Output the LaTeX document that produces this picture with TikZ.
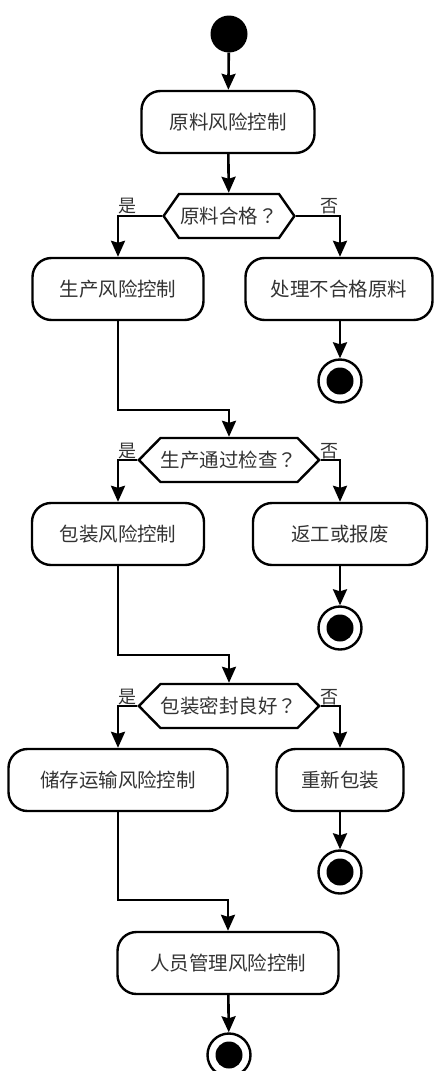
\documentclass[tikz,border=0pt]{standalone}
\usepackage{fontspec}
\newfontfamily\cjk{Noto Sans CJK SC}
\newfontfamily\cjkq{Noto Sans CJK TC}
\usepackage{tikz}
\usetikzlibrary{arrows.meta,shapes.symbols}

\newcommand{\qmark}{{\cjkq ？}}

\tikzset{
  act/.style={draw=black, line width=2.4pt, rounded corners=19pt, minimum height=62pt,
    inner sep=0pt, text=black!80, font=\cjk\fontsize{19.5}{22}\selectfont},
  ask/.style={shape=signal, signal to=west and east, draw=black, line width=2.4pt,
    minimum height=44pt, inner xsep=0pt, align=center, text=black!80,
    font=\cjk\fontsize{19.5}{22}\selectfont},
  tag/.style={inner sep=0pt, text=black!80, font=\cjk\fontsize{18}{20}\selectfont},
  begin/.style={shape=circle, fill=black, minimum size=37pt, inner sep=0pt},
  final/.style={shape=circle, draw=black, line width=2.4pt, minimum size=43pt, inner sep=0pt,
    path picture={\fill[black] (path picture bounding box.center) circle (13.5pt);}},
  flow/.style={line width=2.6pt, -{Stealth[length=16pt,width=14pt,inset=2pt]}}
}

\begin{document}
\begin{tikzpicture}[x=1pt,y=-1pt]
		\useasboundingbox (0,0) rectangle (435,1071);

		\node[begin] (s) at (229, 34) {};
		\node[act, minimum width=173pt] (r1) at (228, 122) {原料风险控制};

		\node[ask, text width=100pt, signal pointer angle=110] (q1) at (229, 216) {原料合格\qmark};
		\node[act, minimum width=171pt] (p1) at (118, 289) {生产风险控制};
		\node[act, minimum width=187pt] (x1) at (339, 289) {处理不合格原料};
		\node[final] (e1) at (340, 381) {};
		\node[tag] (y1) at (127, 206) {是};
		\node[tag] (n1) at (329, 206) {否};
		\coordinate (k1) at (118, 410);

		\node[ask, text width=137pt, signal pointer angle=91] (q2) at (229, 460) {生产通过检查\qmark};
		\node[act, minimum width=172pt] (p2) at (118, 534) {包装风险控制};
		\node[act, minimum width=174pt] (x2) at (340, 534) {返工或报废};
		\node[final] (e2) at (340, 628) {};
		\node[tag] (y2) at (127, 451) {是};
		\node[tag] (n2) at (329, 451) {否};
		\coordinate (k2) at (118, 655);

		\node[ask, text width=137pt, signal pointer angle=91] (q3) at (229, 706) {包装密封良好\qmark};
		\node[act, minimum width=219pt] (p3) at (118, 780) {储存运输风险控制};
		\node[act, minimum width=127pt] (x3) at (340, 780) {重新包装};
		\node[final] (e3) at (340, 872) {};
		\node[tag] (y3) at (127, 697) {是};
		\node[tag] (n3) at (329, 697) {否};
		\coordinate (k3) at (118, 900);

		\node[act, minimum width=221pt] (r2) at (228, 963) {人员管理风险控制};
		\node[final] (e4) at (229, 1055) {};

		\path[flow] (s) edge (r1);
		\path[flow] (r1) edge (q1);
		\draw[flow] (q1.west) -| (p1);
		\draw[flow] (q1.east) -| (e1 |- x1.north);
		\path[flow] (e1 |- x1.south) edge (e1);
		\draw[flow] (p1) -- (k1) -| (q2);

		\draw[flow] (q2.west) -| (p2);
		\draw[flow] (q2.east) -| (x2);
		\path[flow] (x2) edge (e2);
		\draw[flow] (p2) -- (k2) -| (q3);

		\draw[flow] (q3.west) -| (p3);
		\draw[flow] (q3.east) -| (x3);
		\path[flow] (x3) edge (e3);
		\draw[flow] (p3) -- (k3) -| (r2);
		\path[flow] (r2) edge (e4);
		\end{tikzpicture}
\end{document}
